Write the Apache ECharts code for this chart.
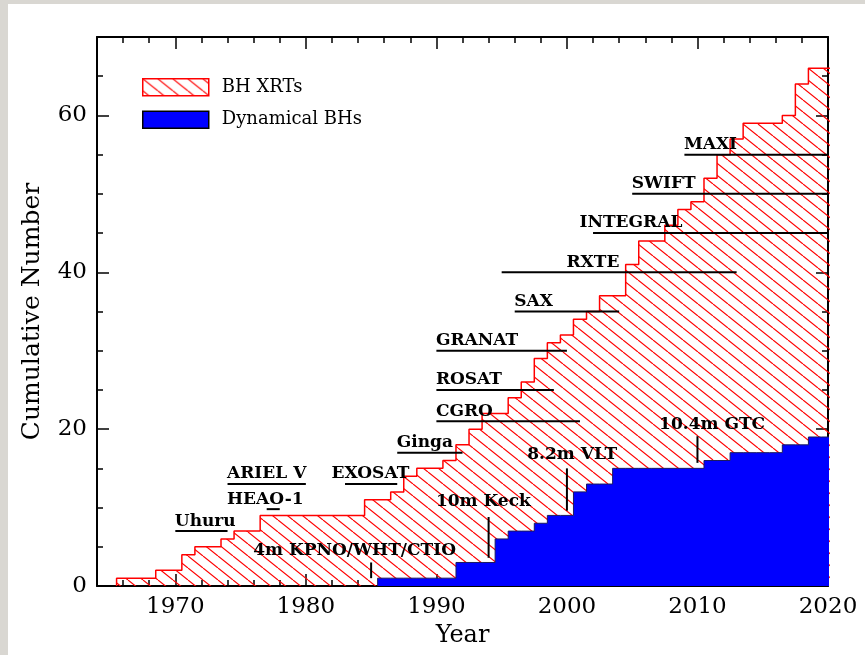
<!DOCTYPE html>
<html><head><meta charset="utf-8">
<script src="https://cdn.jsdelivr.net/npm/echarts@6/dist/echarts.min.js"></script>
<style>
html,body{margin:0;padding:0;background:#d9d7d2;width:865px;height:655px;overflow:hidden;}
#c{position:absolute;left:8px;top:4px;width:857px;height:651px;background:#fff;}
</style></head><body><div id="c"></div>
<script>
// ---- data ----
const xrtStartYear = 1966;
const xrtCounts = [1,1,1,2,2,4,5,5,6,7, 7,9,9,9,9,9,9,9,9,11, 11,12,14,15,15,16,18,20,22,22,
                   24,26,29,31,32,34,35,37,37,41, 44,44,46,48,49,52,55,57,59,59, 59,60,64,66,66];
const dynStartYear = 1986;
const dynCounts = [1,1,1,1,1,1, 3,3,3, 6, 7,7, 8, 9,9, 12, 13,13, 15,15,15,15,15,15,15, 16,16, 17,17,17,17, 18,18, 19,19];

const missionNames = ['Uhuru','ARIEL V','HEAO-1','EXOSAT','Ginga','CGRO','ROSAT','GRANAT','SAX','RXTE','INTEGRAL','SWIFT','MAXI'];
const missionStart = [1970,1974,1977,1983,1987,1990,1990,1990,1996,1995,2002,2005,2009];
const missionEnd   = [1974,1980,1978,1987,1992,2001,1999,2000,2004,2013,2020,2020,2020];
const missionLevel = [7,13,9.8,13,17,21,25,30,35,40,45,50,55];
const missionTextYear = [1970,1974,1974,1982,1987,1990,1990,1990,1996,2000,2001,2005,2009];

const telNames = ['4m KPNO/WHT/CTIO','10m Keck','8.2m VLT','10.4m GTC'];
const telYear  = [1985,1994,2000,2010];
const telLow   = [1,3.6,9.6,15.7];
const telHigh  = [3,8.8,15,19.1];
const telTextYear  = [1976,1990,1997,2007.1];
const telTextLevel = [3.9,10.1,16.1,19.9];

const xMajorTicks = [1970,1980,1990,2000,2010,2020];
const xMinorTicks = [1964,1966,1968,1970,1972,1974,1976,1978,1980,1982,1984,1986,1988,1990,1992,1994,1996,1998,2000,2002,2004,2006,2008,2010,2012,2014,2016,2018,2020];
const yMajorTicks = [0,20,40,60];
const yMinorTicks = [0,5,10,15,20,25,30,35,40,45,50,55,60,65,70];

// ---- helpers ----
function stepPoints(start, counts){
  const pts = [[start-0.5, 0]];
  counts.forEach((v,i)=>pts.push([start+i-0.5, v]));
  pts.push([start+counts.length-0.5, counts[counts.length-1]]);
  return pts;
}
function hatch(w,h,color,lw){
  const c=document.createElement('canvas'); c.width=w; c.height=h;
  const g=c.getContext('2d'); g.strokeStyle=color; g.lineWidth=lw;
  for(let k=-1;k<=1;k++){ g.beginPath(); g.moveTo(k*w,0); g.lineTo(k*w+w,h); g.stroke(); }
  return c;
}
const hatchCanvas = hatch(15,12,'#ff0000',1.2);
const hatchFill = {image: hatchCanvas, repeat:'repeat'};

const SERIF = 'DejaVu Serif';
const labelFont = {fontFamily: SERIF, fontWeight:'bold', fontSize:17, color:'#000000'};

function xAx(pos, ticks, len, labels, lineShow){
  return {type:'value', min:1964, max:2020, position:pos, gridIndex:0,
    axisLine:{show:lineShow, onZero:false, lineStyle:{color:'#000', width:2}},
    axisTick:{show:true, inside:true, length:len, customValues:ticks, lineStyle:{color:'#000', width:1.5}},
    axisLabel: labels ? {show:true, customValues:xMajorTicks, formatter:(v)=>String(v), margin:10, fontFamily:SERIF, fontSize:23, color:'#000'} : {show:false},
    splitLine:{show:false}};
}
function yAx(pos, ticks, len, labels, lineShow){
  return {type:'value', min:0, max:70, position:pos, gridIndex:0,
    axisLine:{show:lineShow, onZero:false, lineStyle:{color:'#000', width:2}},
    axisTick:{show:true, inside:true, length:len, customValues:ticks, lineStyle:{color:'#000', width:1.5}},
    axisLabel: labels ? {show:true, customValues:yMajorTicks, formatter:(v)=>String(v), margin:10, fontFamily:SERIF, fontSize:23, color:'#000'} : {show:false},
    splitLine:{show:false}};
}

const xAxes = [xAx('bottom',xMajorTicks,12,true,true), xAx('bottom',xMinorTicks,6,false,false),
               xAx('top',xMajorTicks,12,false,true), xAx('top',xMinorTicks,6,false,false)];
Object.assign(xAxes[0], {name:'Year', nameLocation:'middle', nameGap:31,
  nameTextStyle:{fontFamily:SERIF, fontSize:24, color:'#000'}});
const yAxes = [yAx('left',yMajorTicks,12,true,true), yAx('left',yMinorTicks,6,false,false),
               yAx('right',yMajorTicks,12,false,true), yAx('right',yMinorTicks,6,false,false)];
Object.assign(yAxes[0], {name:'Cumulative Number', nameLocation:'middle', nameGap:52, nameRotate:90,
  nameTextStyle:{fontFamily:SERIF, fontSize:25, color:'#000'}});

const series = [];
series.push({name:'BH XRTs', type:'line', step:'end', data:stepPoints(xrtStartYear,xrtCounts),
  symbol:'none', z:2, lineStyle:{color:'#ff0000', width:1.5},
  itemStyle:{color:'#ff0000'},
  areaStyle:{color:hatchFill, opacity:1}});
series.push({name:'Dynamical BHs', type:'line', step:'end', data:stepPoints(dynStartYear,dynCounts),
  symbol:'none', z:3, lineStyle:{color:'#1a1a60', width:1},
  itemStyle:{color:'#0000ff'},
  areaStyle:{color:'#0000ff', opacity:1}});

missionNames.forEach((n,i)=>{
  series.push({type:'line', data:[[missionStart[i],missionLevel[i]],[missionEnd[i],missionLevel[i]]],
    symbol:'none', z:5, silent:true, lineStyle:{color:'#000', width:2}});
});
telNames.forEach((n,i)=>{
  series.push({type:'line', data:[[telYear[i],telLow[i]],[telYear[i],telHigh[i]]],
    symbol:'none', z:5, silent:true, lineStyle:{color:'#000', width:2}});
});
series.push({type:'scatter', z:6, silent:true, symbol:'rect', symbolSize:1,
  itemStyle:{color:'rgba(0,0,0,0)'},
  data: missionNames.map((n,i)=>({name:n, value:[missionTextYear[i], missionLevel[i]]})),
  label:{show:true, formatter:'{b}', position:[0,0], align:'left', verticalAlign:'bottom', offset:[0,-1], opacity:1, ...labelFont}});
series.push({type:'scatter', z:6, silent:true, symbol:'rect', symbolSize:1,
  itemStyle:{color:'rgba(0,0,0,0)'},
  data: telNames.map((n,i)=>({name:n, value:[telTextYear[i], telTextLevel[i]]})),
  label:{show:true, formatter:'{b}', position:[0,0], align:'left', verticalAlign:'bottom', offset:[0,4], opacity:1, ...labelFont}});

const chart = echarts.init(document.getElementById('c'), null, {renderer:'canvas'});
chart.setOption({
  animation:false,
  backgroundColor:'#ffffff',
  grid:{left:89, top:33, right:37, bottom:69, containLabel:false},
  legend:{orient:'vertical', left:129, top:69, itemWidth:66, itemHeight:17, itemGap:14,
    icon:'rect', selectedMode:false,
    textStyle:{fontFamily:SERIF, fontSize:18, color:'#000', padding:[0,0,0,8]},
    data:[
      {name:'BH XRTs', itemStyle:{color:hatchFill, borderColor:'#ff0000', borderWidth:1.5}},
      {name:'Dynamical BHs', itemStyle:{color:'#0000ff', borderColor:'#000', borderWidth:1.5}}
    ]},
  xAxis: xAxes,
  yAxis: yAxes,
  series: series
});
</script></body></html>
